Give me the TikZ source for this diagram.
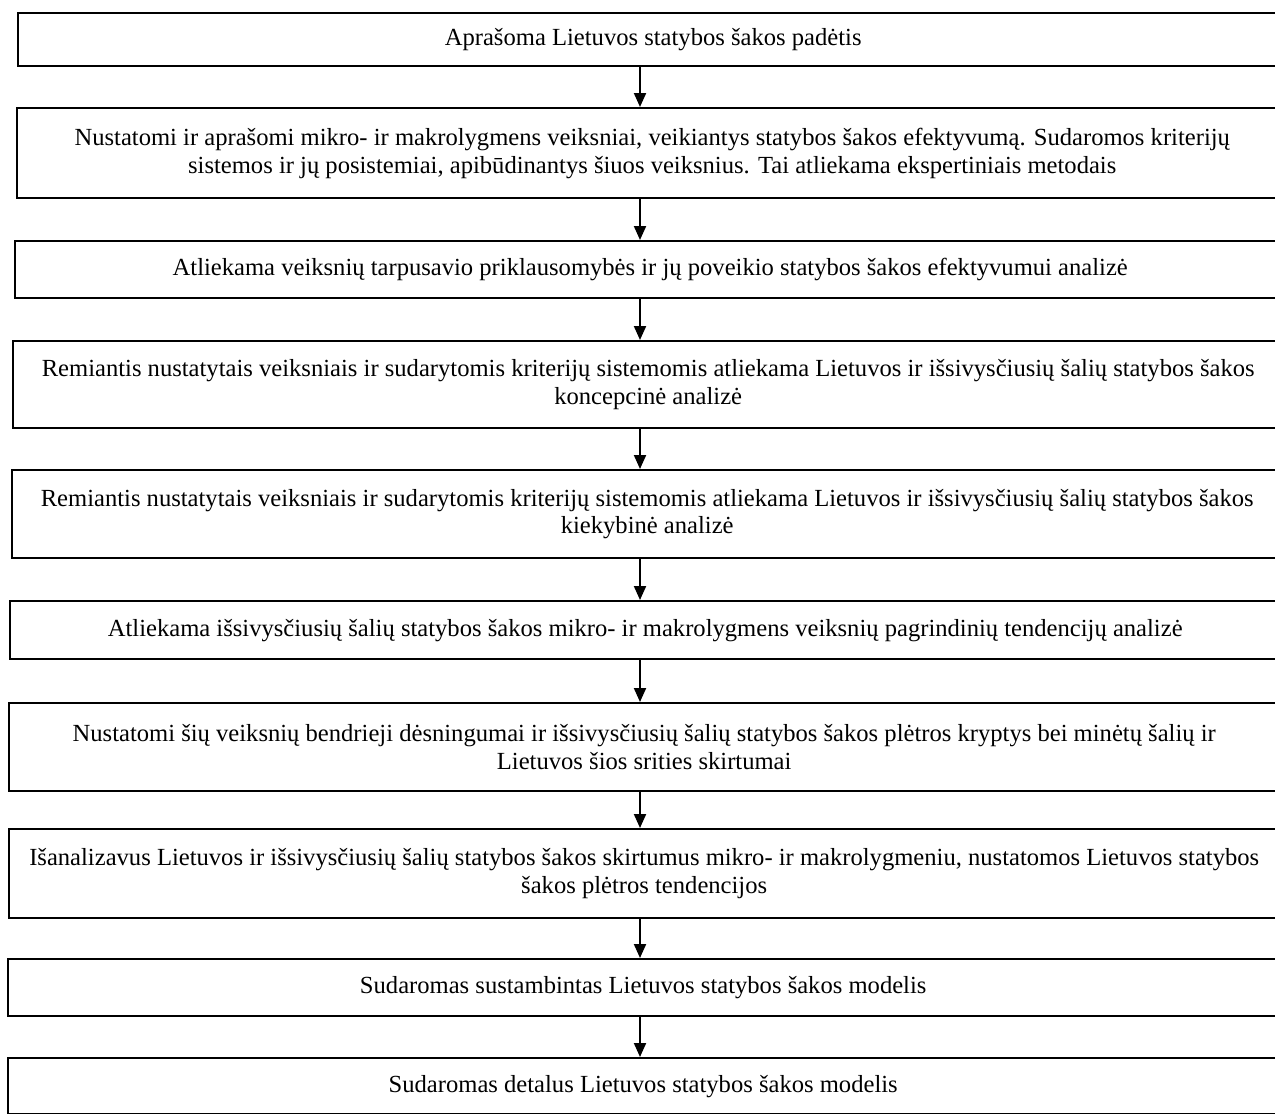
\documentclass[tikz,border=0pt]{standalone}
\usepackage{fontspec}
\setmainfont{Liberation Serif}
\usetikzlibrary{arrows.meta}
\begin{document}
\begin{tikzpicture}[x=0.5pt, y=-0.5pt, >={Triangle[length=7pt,width=6pt]},
  stage/.style={draw, line width=1.2pt, anchor=north west, align=center, inner sep=0pt,
    minimum width=635pt, font=\fontsize{12.3}{13.8}\selectfont}]
\useasboundingbox (0,0) rectangle (1275,1114);
\coordinate (axis) at (640,0);
\node[stage, minimum height=26.5pt] (n1) at (17,12) {Aprašoma Lietuvos statybos šakos padėtis};
\node[stage, minimum height=45pt] (n2) at (16,107) {Nustatomi ir aprašomi mikro- ir makrolygmens veiksniai, veikiantys statybos šakos efektyvumą. Sudaromos kriterijų\\ sistemos ir jų posistemiai, apibūdinantys šiuos veiksnius. Tai atliekama ekspertiniais metodais};
\node[stage, minimum height=28.5pt] (n3) at (14,240) {Atliekama veiksnių tarpusavio priklausomybės ir jų poveikio statybos šakos efektyvumui analizė};
\node[stage, minimum height=43.5pt] (n4) at (12,340) {Remiantis nustatytais veiksniais ir sudarytomis kriterijų sistemomis atliekama Lietuvos ir išsivysčiusių šalių statybos šakos\\ koncepcinė analizė};
\node[stage, minimum height=44pt] (n5) at (11,469) {Remiantis nustatytais veiksniais ir sudarytomis kriterijų sistemomis atliekama Lietuvos ir išsivysčiusių šalių statybos šakos\\ kiekybinė analizė};
\node[stage, minimum height=29pt] (n6) at (9,600) {Atliekama išsivysčiusių šalių statybos šakos mikro- ir makrolygmens veiksnių pagrindinių tendencijų analizė};
\node[stage, minimum height=44pt] (n7) at (8,702) {Nustatomi šių veiksnių bendrieji dėsningumai ir išsivysčiusių šalių statybos šakos plėtros kryptys bei minėtų šalių ir\\ Lietuvos šios srities skirtumai};
\node[stage, minimum height=44.5pt] (n8) at (8,828) {Išanalizavus Lietuvos ir išsivysčiusių šalių statybos šakos skirtumus mikro- ir makrolygmeniu, nustatomos Lietuvos statybos\\ šakos plėtros tendencijos};
\node[stage, minimum height=28.5pt] (n9) at (7,958) {Sudaromas sustambintas Lietuvos statybos šakos modelis};
\node[stage, minimum height=28pt] (n10) at (7,1057) {Sudaromas detalus Lietuvos statybos šakos modelis};
\foreach \i [evaluate=\i as \j using int(\i+1)] in {1,...,9}
  \draw[->, line width=1pt] (n\i.south -| axis) -- (n\j.north -| axis);
\end{tikzpicture}
\end{document}
